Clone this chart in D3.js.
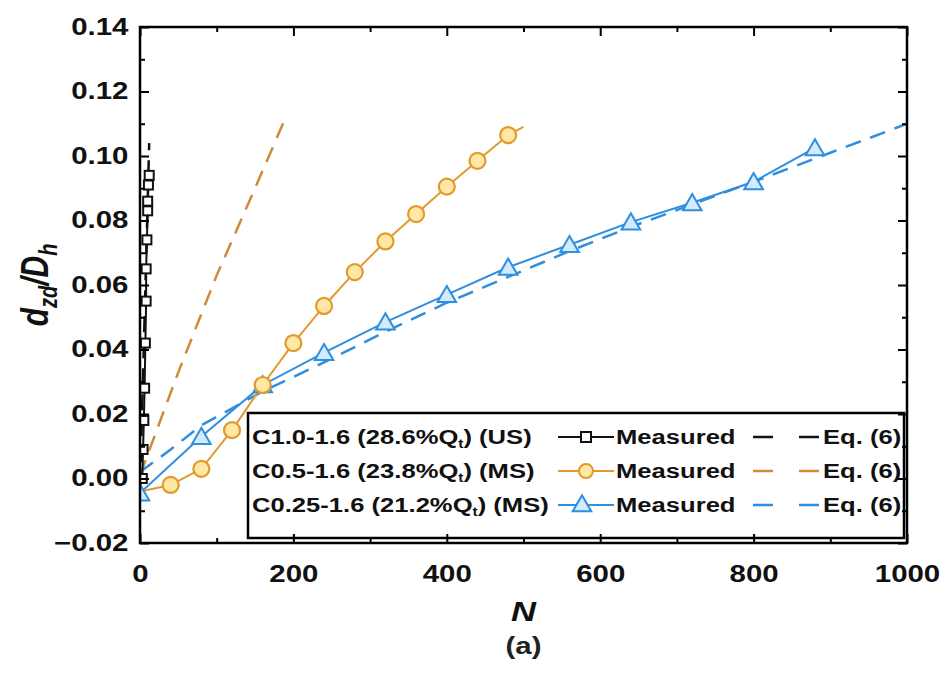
<!DOCTYPE html>
<html>
<head>
<meta charset="utf-8">
<script src="https://cdn.jsdelivr.net/npm/d3@7"></script>
<style>
  html, body { margin: 0; padding: 0; background: #fff; }
  svg { display: block; font-family: "Liberation Sans", Arial, sans-serif; }
  svg text { font-family: "Liberation Sans", Arial, sans-serif; }
  .tick line { stroke: #000; stroke-width: 2; }
  .tick text { font-size: 23px; font-weight: bold; fill: #111; }
</style>
</head>
<body>
<svg id="chart" width="944" height="682"></svg>
<script>
// ---- data ----
const xTicks = [0, 200, 400, 600, 800, 1000];
const yTicks = [-0.02, 0, 0.02, 0.04, 0.06, 0.08, 0.10, 0.12, 0.14];

// C1.0-1.6 (US), measured + Eq. (6)
const blackN = [3, 4, 5, 6, 7, 8, 8, 9, 10, 10, 11, 12];
const blackVal = [0.000, 0.009, 0.018, 0.028, 0.042, 0.055, 0.065, 0.074, 0.083, 0.086, 0.091, 0.094];
const blackEqN = [0, 3, 6, 9, 12];
const blackEqVal = [-0.003, 0.024, 0.050, 0.077, 0.104];

// C0.5-1.6 (MS)
const orangeN = [0, 40, 80, 120, 160, 200, 240, 280, 320, 360, 400, 440, 480, 500];
const orangeVal = [-0.004, -0.002, 0.003, 0.015, 0.029, 0.042, 0.0535, 0.064, 0.0735, 0.082, 0.0905, 0.0985, 0.1065, 0.109];
const orangeEqN = [0, 50, 100, 150, 190];
const orangeEqVal = [0.001, 0.033, 0.063, 0.090, 0.112];

// C0.25-1.6 (MS)
const blueN = [0, 80, 160, 240, 320, 400, 480, 560, 640, 720, 800, 880];
const blueVal = [-0.0045, 0.013, 0.029, 0.039, 0.0485, 0.057, 0.0655, 0.0725, 0.0795, 0.0855, 0.092, 0.1025];
const blueEqN = [0, 40, 80, 160, 240, 320, 400, 480, 560, 640, 720, 800, 900, 1000];
const blueEqVal = [0.002, 0.009, 0.0165, 0.027, 0.036, 0.0455, 0.0545, 0.0625, 0.0705, 0.078, 0.085, 0.092, 0.101, 0.110];

const legendLabels = ['C1.0-1.6 (28.6%', 'C0.5-1.6 (23.8%', 'C0.25-1.6 (21.2%'];
const legendTails = [') (US)', ') (MS)', ') (MS)'];

const BLACK = '#111', ORANGE = '#e29a2e', ORANGE_EQ = '#d08a3a', BLUE = '#2f8ede';
const SX = 1.28; // glyphs in the picture are stretched wide

// ---- layout ----
const svg = d3.select('#chart');
const m = { left: 140, top: 27, right: 37, bottom: 139 };
const W = 944 - m.left - m.right, H = 682 - m.top - m.bottom;
const x = d3.scaleLinear().domain([0, 1000]).range([0, W]);
const y = d3.scaleLinear().domain([-0.02, 0.14]).range([H, 0]);
const g = svg.append('g').attr('transform', `translate(${m.left},${m.top})`);

const zip = (a, b) => a.map((v, i) => [v, b[i]]);
const line = d3.line().x(d => x(d[0])).y(d => y(d[1]));

g.append('defs').append('clipPath').attr('id', 'clip')
  .append('rect').attr('width', W).attr('height', H);
const plot = g.append('g').attr('clip-path', 'url(#clip)');

// Eq. (6) dashed curves
[[blackEqN, blackEqVal, BLACK], [orangeEqN, orangeEqVal, ORANGE_EQ], [blueEqN, blueEqVal, BLUE]].forEach(([n, v, c]) => {
  plot.append('path').datum(zip(n, v)).attr('d', line)
    .attr('fill', 'none').attr('stroke', c).attr('stroke-width', 2.5).attr('stroke-dasharray', '16,10');
});

// measured lines
[[blueN, blueVal, BLUE], [orangeN, orangeVal, ORANGE], [blackN, blackVal, BLACK]].forEach(([n, v, c]) => {
  plot.append('path').datum(zip(n, v)).attr('d', line)
    .attr('fill', 'none').attr('stroke', c).attr('stroke-width', 2);
});

// markers
const tri = d3.symbol().type(d3.symbolTriangle).size(150);
plot.append('g').selectAll('path').data(zip(blueN, blueVal)).join('path')
  .attr('d', tri).attr('transform', d => `translate(${x(d[0])},${y(d[1]) + 2})`)
  .attr('fill', '#d4ebff').attr('stroke', BLUE).attr('stroke-width', 2);
plot.append('g').selectAll('circle').data(zip(orangeN, orangeVal).slice(1, -1)).join('circle')
  .attr('cx', d => x(d[0])).attr('cy', d => y(d[1])).attr('r', 8)
  .attr('fill', '#ffe7a6').attr('stroke', ORANGE).attr('stroke-width', 2.2);
plot.append('g').selectAll('rect').data(zip(blackN, blackVal)).join('rect')
  .attr('x', d => x(d[0]) - 4.5).attr('y', d => y(d[1]) - 4.5).attr('width', 9).attr('height', 9)
  .attr('fill', '#fff').attr('stroke', BLACK).attr('stroke-width', 2);

// ---- legend ----
const lg = g.append('g').attr('transform', `translate(${248 - m.left},${413 - m.top})`);
lg.append('rect').attr('width', 656).attr('height', 125)
  .attr('fill', '#fff').attr('stroke', '#000').attr('stroke-width', 2.5);
const rows = [
  { c: BLACK, eq: BLACK, mk: 'square' },
  { c: ORANGE, eq: ORANGE_EQ, mk: 'circle' },
  { c: BLUE, eq: BLUE, mk: 'triangle' }
];
rows.forEach((r, i) => {
  const yy = 24 + i * 34;
  const row = lg.append('g').attr('transform', `translate(0,${yy})`);
  const t = row.append('text').attr('transform', `translate(4,7) scale(${SX},1)`)
    .attr('font-size', 20).attr('font-weight', 'bold').attr('fill', '#111');
  t.append('tspan').text(legendLabels[i]);
  t.append('tspan').text('Q');
  t.append('tspan').attr('font-size', 12).attr('dy', 4).text('t');
  t.append('tspan').attr('dy', -4).text(legendTails[i]);
  row.append('line').attr('x1', 310).attr('x2', 366).attr('stroke', r.c).attr('stroke-width', 2);
  if (r.mk === 'square') row.append('rect').attr('x', 333).attr('y', -5).attr('width', 10).attr('height', 10)
    .attr('fill', '#fff').attr('stroke', r.c).attr('stroke-width', 2);
  if (r.mk === 'circle') row.append('circle').attr('cx', 338).attr('r', 7)
    .attr('fill', '#ffe7a6').attr('stroke', r.c).attr('stroke-width', 2);
  if (r.mk === 'triangle') row.append('path').attr('d', tri).attr('transform', 'translate(334,1)')
    .attr('fill', '#d4ebff').attr('stroke', r.c).attr('stroke-width', 2);
  row.append('text').attr('transform', `translate(368,7) scale(${SX},1)`)
    .attr('font-size', 20).attr('font-weight', 'bold').attr('fill', '#111').text('Measured');
  row.append('line').attr('x1', 505).attr('x2', 571).attr('stroke', r.eq).attr('stroke-width', 2.5)
    .attr('stroke-dasharray', '20,26');
  row.append('text').attr('transform', `translate(575,7) scale(${SX},1)`)
    .attr('font-size', 20).attr('font-weight', 'bold').attr('fill', '#111').text('Eq. (6)');
});

// ---- axes (ticks pointing inward, mirrored on top/right) ----
const xMinor = d3.range(100, 1000, 200);
const yMinor = d3.range(-0.01, 0.14, 0.02);
g.append('g').attr('transform', `translate(0,${H})`)
  .call(d3.axisBottom(x).tickValues(xTicks).tickSize(-9).tickPadding(23).tickFormat(d3.format('d')));
g.append('g').attr('transform', `translate(0,${H})`)
  .call(d3.axisBottom(x).tickValues(xMinor).tickSize(-5).tickFormat(''));
g.append('g').call(d3.axisTop(x).tickValues(xTicks).tickSize(-9).tickFormat(''));
g.append('g').call(d3.axisTop(x).tickValues(xMinor).tickSize(-5).tickFormat(''));
g.append('g')
  .call(d3.axisLeft(y).tickValues(yTicks).tickSize(-9).tickPadding(9).tickFormat(d3.format('.2f')));
g.append('g').call(d3.axisLeft(y).tickValues(yMinor).tickSize(-5).tickFormat(''));
g.append('g').attr('transform', `translate(${W},0)`)
  .call(d3.axisRight(y).tickValues(yTicks).tickSize(-9).tickFormat(''));
g.append('g').attr('transform', `translate(${W},0)`)
  .call(d3.axisRight(y).tickValues(yMinor).tickSize(-5).tickFormat(''));
g.selectAll('.domain').remove();
g.selectAll('.tick text').attr('transform', `scale(${SX},1)`);
g.append('rect').attr('width', W).attr('height', H)
  .attr('fill', 'none').attr('stroke', '#000').attr('stroke-width', 2.5);

// ---- axis titles ----
const yl = svg.append('text').attr('transform', `translate(48,${m.top + H / 2}) rotate(-90) scale(1,${SX})`)
  .attr('text-anchor', 'middle').attr('font-size', 30).attr('font-weight', 'bold')
  .attr('font-style', 'italic').attr('fill', '#111');
yl.append('tspan').text('d');
yl.append('tspan').attr('font-size', 20).attr('dy', 7).text('zd');
yl.append('tspan').attr('dy', -7).text('/D');
yl.append('tspan').attr('font-size', 20).attr('dy', 7).text('h');

svg.append('text').attr('transform', `translate(${m.left + x(500)},621) scale(${SX},1)`)
  .attr('text-anchor', 'middle').attr('font-size', 27).attr('font-weight', 'bold')
  .attr('font-style', 'italic').attr('fill', '#111').text('N');
svg.append('text').attr('transform', `translate(${m.left + x(500)},654) scale(${SX},1)`)
  .attr('text-anchor', 'middle').attr('font-size', 23).attr('font-weight', 'bold')
  .attr('font-family', 'Arial, "Liberation Sans", sans-serif').attr('fill', '#222').text('(a)');
</script>
</body>
</html>
